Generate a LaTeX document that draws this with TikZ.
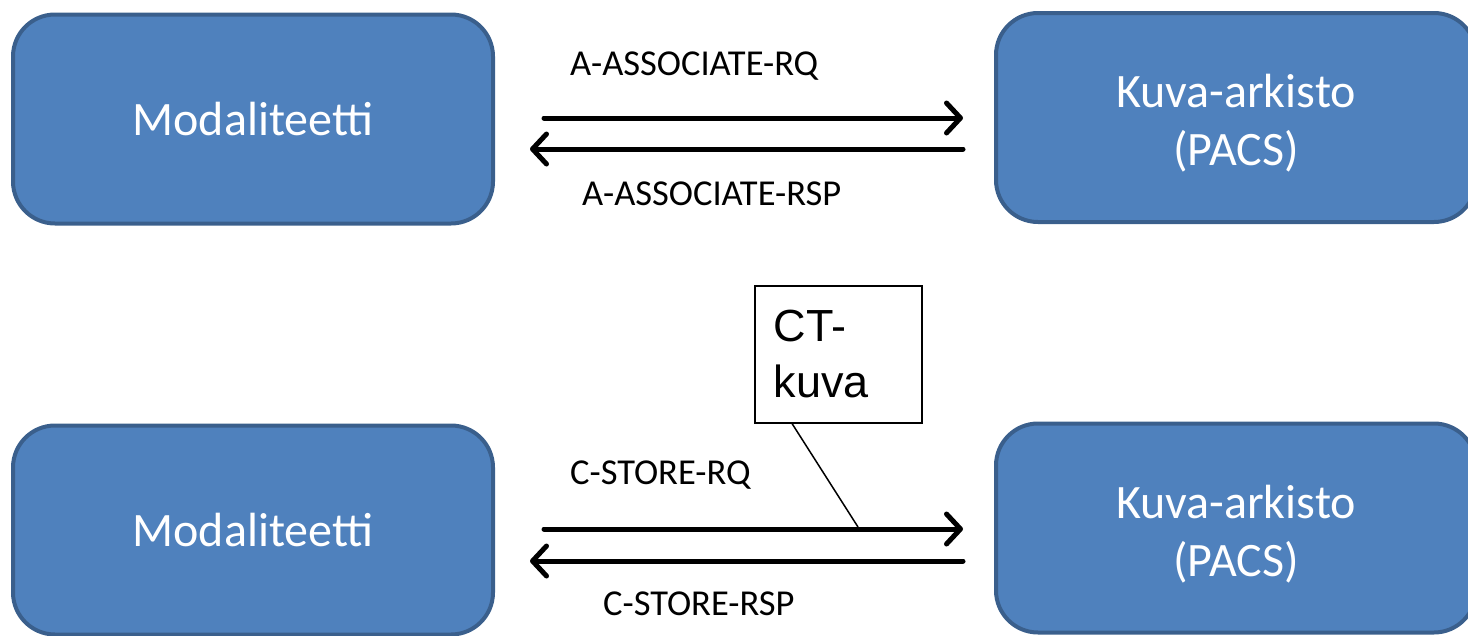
\documentclass[tikz,border=0pt]{standalone}
\usepackage{fontspec}
\setmainfont{Carlito}
\newfontfamily\arialfont{Liberation Sans}
\usetikzlibrary{arrows.meta}
\definecolor{boxfill}{HTML}{4F81BD}
\definecolor{boxedge}{HTML}{3A5F8C}
\newcommand{\topgap}{\rule{0pt}{45pt}}
\begin{document}
\begin{tikzpicture}[x=1pt,y=-1pt,
  entity/.style={rectangle, rounded corners=42pt, fill=boxfill, draw=boxedge,
    line width=4pt, minimum width=480pt, minimum height=209pt, inner sep=0pt,
    text=white, align=center, font=\fontsize{48}{58}\selectfont},
  msg/.style={line width=5pt, line cap=round,
    -{Straight Barb[length=14pt,width=30pt,round]}},
  msglabel/.style={anchor=west, inner sep=0pt, font=\fontsize{36.5}{42}\selectfont},
  notebox/.style={rectangle, draw=black, line width=1.5pt, fill=white,
    anchor=north west, minimum width=167pt, minimum height=137pt,
    text width=129pt, inner xsep=19pt, align=left,
    font=\arialfont\fontsize{45}{56}\selectfont}]
\useasboundingbox (0,0) rectangle (1468,635);

% association phase
\node[entity] (m1) at (253,119) {Modaliteetti};
\node[entity] (p1) at (1236,117.5) {\topgap Kuva-arkisto\\(PACS)};
\coordinate (rq1s) at (544,118);
\coordinate (rq1e) at (963,118);
\coordinate (rs1s) at (963,149);
\coordinate (rs1e) at (530,149);
\draw[msg] (rq1s) -- (rq1e);
\draw[msg] (rs1s) -- (rs1e);
\node[msglabel] (lrq1) at (570,66) {A-ASSOCIATE-RQ};
\node[msglabel] (lrs1) at (582,194) {A-ASSOCIATE-RSP};

% storage phase
\node[entity] (m2) at (253,530) {Modaliteetti};
\node[entity] (p2) at (1236,528) {\topgap Kuva-arkisto\\(PACS)};
\coordinate (rq2s) at (544,529);
\coordinate (rq2e) at (963,529);
\coordinate (rs2s) at (963,561);
\coordinate (rs2e) at (530,561);
\draw[msg] (rq2s) -- (rq2e);
\draw[msg] (rs2s) -- (rs2e);
\node[msglabel] (lrq2) at (570,475) {C-STORE-RQ};
\node[msglabel] (lrs2) at (603,604) {C-STORE-RSP};

% callout for the transferred image
\node[notebox] (ct) at (754,285) {CT-\\kuva};
\coordinate (ctfoot) at (858,527);
\draw[line width=1.5pt] ([xshift=38pt]ct.south west) -- (ctfoot);
\end{tikzpicture}
\end{document}
